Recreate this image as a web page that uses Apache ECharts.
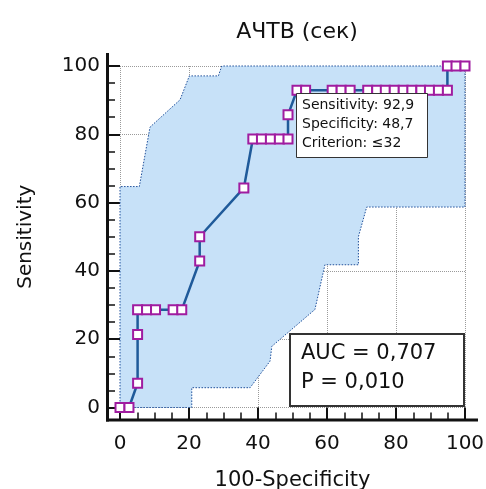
<!DOCTYPE html>
<html>
<head>
<meta charset="utf-8">
<script src="https://cdn.jsdelivr.net/npm/echarts@6/dist/echarts.min.js"></script>
<style>
  html, body { margin: 0; padding: 0; background: #fff; }
  #main { width: 486px; height: 489px; }
</style>
</head>
<body>
<div id="main"></div>
<script>
// ROC curve points (100-Specificity, Sensitivity)
const rocX = [0, 2.6, 5.1, 5.1, 5.1, 7.7, 10.3, 15.4, 17.9, 23.1, 23.1, 35.9,
  38.5, 41.0, 43.6, 46.2, 48.7, 48.7, 51.3, 53.8, 61.5, 64.1, 66.7,
  71.8, 74.4, 76.9, 79.5, 82.1, 84.6, 87.2, 89.7, 92.3, 94.9, 94.9, 97.4, 100];
const rocY = [0, 0, 7.1, 21.4, 28.6, 28.6, 28.6, 28.6, 28.6, 42.9, 50, 64.3,
  78.6, 78.6, 78.6, 78.6, 78.6, 85.7, 92.9, 92.9, 92.9, 92.9, 92.9,
  92.9, 92.9, 92.9, 92.9, 92.9, 92.9, 92.9, 92.9, 92.9, 92.9, 100, 100, 100];

// confidence band, upper and lower bounds
const upX = [0, 0, 5.6, 8.7, 17.4, 20.1, 28.5, 29.5, 100];
const upY = [0, 64.7, 64.7, 82.1, 90.1, 97.1, 97.1, 100, 100];
const loX = [0, 20.8, 20.8, 37.7, 43.5, 44, 56.5, 59.4, 69.1, 69.1, 71.5, 100, 100];
const loY = [0, 0, 5.8, 5.8, 13.6, 17.9, 28.7, 41.8, 41.8, 50, 58.7, 58.7, 100];

const xTicks = [0, 20, 40, 60, 80, 100];
const yTicks = [0, 20, 40, 60, 80, 100];

const FONT = 'DejaVu Sans';

var myChart = echarts.init(document.getElementById('main'));

let rocData = [];
for (let i = 0; i < rocX.length; i++) {
  rocData.push([rocX[i], rocY[i]]);
}

let bandPts = [];
for (let i = 0; i < upX.length; i++) bandPts.push([upX[i], upY[i]]);
for (let i = loX.length - 1; i >= 0; i--) bandPts.push([loX[i], loY[i]]);

var option = {
  animation: false,
  backgroundColor: '#fff',
  textStyle: { fontFamily: FONT },
  title: {
    text: 'АЧТВ (сек)',
    left: 292,
    top: 16,
    textAlign: 'center',
    textStyle: { fontFamily: FONT, fontSize: 22, fontWeight: 'normal', color: '#111' }
  },
  grid: { left: 120, right: 21, top: 66, bottom: 81.5, outerBoundsMode: 'none', containLabel: false },
  xAxis: {
    type: 'value',
    min: xTicks[0], max: xTicks[xTicks.length - 1], interval: 20,
    offset: 12,
    name: '100-Specificity',
    nameLocation: 'middle',
    nameGap: 51,
    nameTextStyle: { fontFamily: FONT, fontSize: 21, color: '#111' },
    axisLine: { show: false, onZero: false },
    axisTick: { show: true, inside: true, length: 12, lineStyle: { color: '#111', width: 2 } },
    minorTick: { show: true, splitNumber: 4, length: 7, lineStyle: { color: '#111', width: 1.5 } },
    axisLabel: { fontFamily: FONT, fontSize: 20, color: '#111', margin: 14 },
    splitLine: { show: true, lineStyle: { type: 'dotted', color: '#9a9a9a', width: 1 } }
  },
  yAxis: {
    type: 'value',
    min: yTicks[0], max: yTicks[yTicks.length - 1], interval: 20,
    offset: 12,
    name: 'Sensitivity',
    nameLocation: 'middle',
    nameGap: 72,
    nameTextStyle: { fontFamily: FONT, fontSize: 20, color: '#111' },
    axisLine: { show: false, onZero: false },
    axisTick: { show: true, inside: true, length: 12, lineStyle: { color: '#111', width: 2 } },
    minorTick: { show: true, splitNumber: 4, length: 7, lineStyle: { color: '#111', width: 1.5 } },
    axisLabel: { fontFamily: FONT, fontSize: 20, color: '#111', margin: 8 },
    splitLine: { show: true, lineStyle: { type: 'dotted', color: '#9a9a9a', width: 1 } }
  },
  series: [
    {
      type: 'custom',
      z: 1,
      clip: false,
      data: [0],
      renderItem: function (params, api) {
        let pts = bandPts.map(p => api.coord(p));
        return {
          type: 'polygon',
          shape: { points: pts },
          style: { fill: '#c7e1f8', stroke: '#1f4f9a', lineWidth: 1, lineDash: [1.5, 1.5] }
        };
      }
    },
    {
      type: 'line',
      z: 3,
      clip: false,
      data: rocData,
      symbol: 'rect',
      symbolSize: 9,
      showAllSymbol: true,
      lineStyle: { color: '#1f5a9a', width: 2.5 },
      itemStyle: { color: '#fff', borderColor: '#a01ca0', borderWidth: 2 }
    }
  ],
  graphic: [
    { id: 'xline', type: 'line', z: 10, shape: { x1: 106, y1: 420, x2: 478, y2: 420 }, style: { stroke: '#111', lineWidth: 3 } },
    { id: 'yline', type: 'line', z: 10, shape: { x1: 107.5, y1: 421.5, x2: 107.5, y2: 53 }, style: { stroke: '#111', lineWidth: 3 } },
    { id: 'sbox', type: 'rect', z: 20, shape: { x: 296.5, y: 93.5, width: 131, height: 64 },
      style: { fill: '#fff', stroke: '#333', lineWidth: 1 } },
    { id: 'stext', type: 'text', z: 21, x: 302, y: 96, style: {
        text: 'Sensitivity: 92,9\nSpecificity: 48,7\nCriterion: ≤32',
        font: '14px "DejaVu Sans"', lineHeight: 19, fill: '#111', verticalAlign: 'top' } },
    { id: 'abox', type: 'rect', z: 20, shape: { x: 290, y: 334, width: 174, height: 72 },
      style: { fill: '#fff', stroke: '#333', lineWidth: 2 } },
    { id: 'atext', type: 'text', z: 21, x: 301, y: 339, style: {
        text: 'AUC = 0,707\nP = 0,010',
        font: '21px "DejaVu Sans"', lineHeight: 29, fill: '#111', verticalAlign: 'top' } }
  ]
};

myChart.setOption(option);
</script>
</body>
</html>
